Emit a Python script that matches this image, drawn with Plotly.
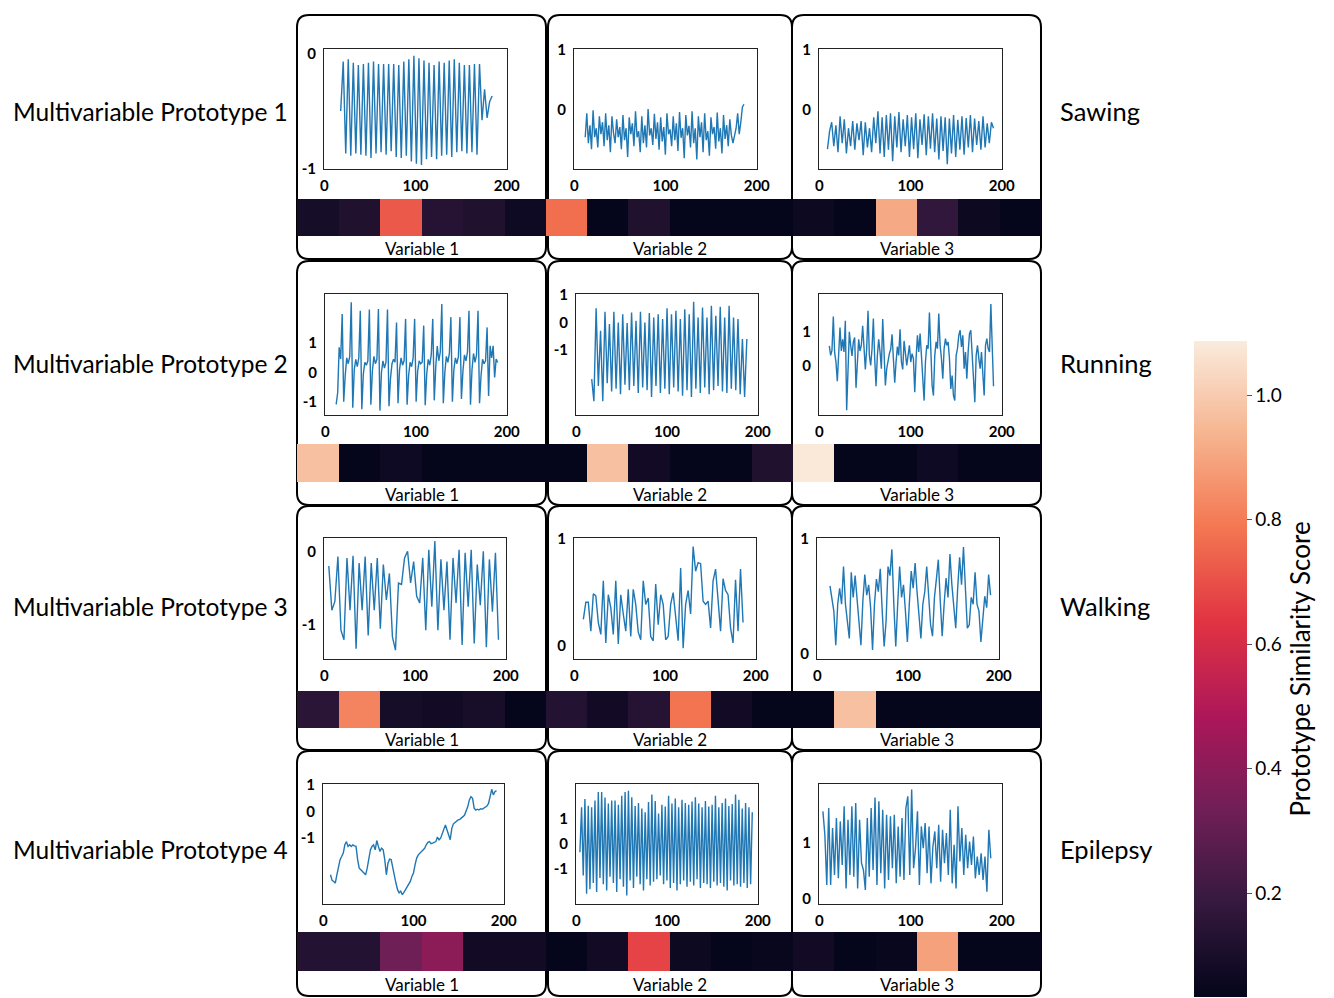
import numpy as np
import plotly.graph_objects as go

# ---- data ----
prototypes = ["Multivariable Prototype 1", "Multivariable Prototype 2",
              "Multivariable Prototype 3", "Multivariable Prototype 4"]
activities = ["Sawing", "Running", "Walking", "Epilepsy"]
variables = ["Variable 1", "Variable 2", "Variable 3"]
x_ticks = [0, 100, 200]

# prototype time series (values sampled evenly between start and end index)
p1_v1 = [-0.50, -0.07, -0.87, -0.05, -0.89, -0.08, -0.87, -0.10, -0.88, -0.09, -0.89, -0.08,
         -0.91, -0.07, -0.87, -0.09, -0.86, -0.09, -0.88, -0.09, -0.85, -0.09, -0.90, -0.10,
         -0.91, -0.07, -0.89, -0.05, -0.94, -0.02, -0.96, -0.04, -0.97, -0.06, -0.92, -0.08,
         -0.90, -0.10, -0.92, -0.07, -0.89, -0.08, -0.88, -0.06, -0.90, -0.05, -0.86, -0.08,
         -0.85, -0.10, -0.87, -0.10, -0.86, -0.09, -0.88, -0.09, -0.58, -0.31, -0.56, -0.42, -0.37]
p1_v2 = [-0.45, -0.05, -0.55, -0.25, -0.65, 0.00, -0.45, -0.30, -0.62, -0.10, -0.40, -0.20,
         -0.60, -0.05, -0.50, -0.25, -0.70, -0.10, -0.38, -0.55, -0.15, -0.45, -0.28, -0.65,
         -0.08, -0.50, -0.30, -0.78, -0.12, -0.40, -0.22, -0.60, -0.02, -0.45, -0.35, -0.70,
         -0.10, -0.55, -0.25, -0.62, 0.02, -0.42, -0.30, -0.58, -0.06, -0.48, -0.20, -0.66,
         -0.12, -0.52, -0.28, -0.74, -0.05, -0.40, -0.32, -0.60, -0.10, -0.50, -0.22, -0.68,
         -0.03, -0.46, -0.30, -0.80, -0.08, -0.42, -0.26, -0.62, -0.02, -0.55, -0.30, -0.82,
         -0.10, -0.45, -0.20, -0.70, -0.05, -0.50, -0.35, -0.76, -0.12, -0.40, -0.28, -0.64,
         -0.04, -0.52, -0.30, -0.72, -0.08, -0.48, -0.25, -0.60, -0.15, -0.42, -0.55, -0.45,
         -0.30, -0.05, -0.40, -0.20, 0.05, 0.10]
p1_v3 = [-0.65, -0.35, -0.20, -0.60, -0.25, -0.70, -0.10, -0.55, -0.15, -0.72, -0.30, -0.60,
         -0.18, -0.66, -0.22, -0.50, -0.18, -0.75, -0.20, -0.62, -0.30, -0.70, -0.12, -0.55,
         -0.02, -0.72, -0.12, -0.78, -0.08, -0.66, -0.05, -0.85, -0.10, -0.62, -0.03, -0.70,
         -0.15, -0.60, -0.08, -0.78, -0.12, -0.65, -0.05, -0.80, -0.15, -0.58, -0.07, -0.75,
         -0.10, -0.64, -0.05, -0.70, -0.14, -0.82, -0.10, -0.68, -0.12, -0.90, -0.14, -0.72,
         -0.08, -0.78, -0.16, -0.66, -0.10, -0.74, -0.13, -0.62, -0.08, -0.70, -0.14, -0.58,
         -0.18, -0.66, -0.10, -0.62, -0.22, -0.55, -0.20, -0.30]
p2_v1 = [-1.09, -0.69, 0.86, 0.46, 2.00,
         -1.00, -0.10, 0.50, 0.30, 0.55, 2.40,
         -1.20, 0.10, 0.45, 0.20, 0.50, 2.11,
         -1.25, -0.05, 0.35, 0.25, 0.40, 2.15,
         -1.10, 0.05, 0.55, 0.30, 0.45, 2.17,
         -1.30, 0.00, 0.40, 0.15, 0.35, 2.15,
         -1.15, -0.20, 0.30, 0.45, 0.35, 1.71,
         -1.05, 0.10, 0.50, 0.25, 0.40, 1.83,
         -1.10, -0.10, 0.35, 0.20, 0.50, 1.83,
         -1.00, 0.05, 0.40, 0.30, 0.35, 1.60,
         -1.12, -0.05, 0.45, 0.25, 0.60, 1.83,
         -0.95, 0.20, 0.90, 0.40, 0.70, 2.34,
         -1.05, 0.00, 0.55, 0.35, 0.65, 1.89,
         -1.00, 0.10, 0.50, 0.30, 0.55, 1.89,
         -0.90, 0.05, 0.60, 0.40, 0.70, 2.11,
         -1.10, 0.10, 0.65, 0.35, 0.60, 2.11,
         -1.05, -0.10, 0.45, 0.30, 0.40, 1.54,
         -0.80, 0.91, 0.50, 0.91, -0.17, 0.46, 0.34]
p2_v2 = [-2.05, -2.85, 0.51, -2.30, -0.30, -2.85, 0.39, -2.20, -0.06, -2.50, 0.39, -2.40,
         0.00, -2.60, 0.30, -2.25, -0.02, -2.45, 0.36, -2.30, 0.06, -2.55, 0.39, -2.35,
         0.00, -2.45, 0.34, -2.70, 0.18, -2.30, 0.30, -2.55, 0.12, -2.40, 0.51, -2.60,
         0.30, -2.35, 0.42, -2.50, 0.12, -2.65, 0.48, -2.45, 0.30, -2.70, 0.75, -2.40,
         0.18, -2.55, 0.54, -2.35, 0.18, -2.60, 0.60, -2.45, 0.24, -2.30, 0.57, -2.50,
         0.18, -2.55, 0.60, -2.40, 0.18, -2.45, 0.12, -2.60, -0.60, -2.70, -0.60]
p2_v3 = [0.58, 0.30, 0.45, 1.46, 0.38, 0.10, -0.47, 0.30, 1.13, 0.43, 0.78, 0.40, 1.33,
         -1.34, 0.20, 1.00, 0.60, 0.28, 0.70, 0.83, -0.67, 0.10, 0.78, 0.43, 0.60, 1.18,
         0.40, -0.12, 0.50, 1.63, 0.30, 0.00, 0.50, 1.40, 0.20, -0.62, 0.30, 0.78, 0.40,
         -0.10, 1.38, 0.30, -0.60, -0.10, 0.20, 0.35, 0.48, 0.93, 0.20, -0.52, 0.10, 0.56,
         0.30, 1.08, 0.10, -0.12, 0.73, 0.40, 0.00, 0.30, 0.60, 0.10, 0.35, 0.20, -0.80,
         0.20, 0.90, 0.40, 0.95, 0.30, -0.50, -1.05, 0.10, 0.60, 0.50, 1.58, 0.50, -0.60,
         -0.90, 0.30, 0.70, 0.50, 1.55, 0.60, 0.20, -0.40, 0.50, 0.80, 0.60, 0.70, 0.20,
         -0.70, -0.30, -0.90, -1.05, 0.30, 0.50, 0.90, 1.05, 0.55, 0.90, -0.10, 0.40, -0.40,
         0.40, 0.95, 1.05, 0.30, -0.30, -1.10, 0.30, 0.60, 0.20, -0.10, 0.40, -0.30, -0.90,
         0.60, 0.80, 0.50, 0.40, 1.83, 0.40, -0.62]
p3_v1 = [-0.20, -0.80, -0.68, -0.07, -1.07, -1.20, -0.09, -0.80, -0.06, -1.32, -0.16, -0.80,
         -0.07, -1.14, -0.16, -0.80, -0.09, -1.05, -0.18, -0.66, -0.30, -1.16, -1.34, -0.43,
         -0.45, -0.09, 0.00, -0.43, -0.14, -0.61, -0.70, -0.09, -1.07, 0.02, -0.75, 0.14,
         -1.07, -0.11, -0.80, -0.14, -1.20, -0.09, -0.70, 0.02, -1.27, -0.02, -0.75, 0.02,
         -1.25, -0.18, -0.73, 0.00, -1.30, -0.11, -0.82, -0.02, -1.20]
p3_v2 = [0.25, 0.41, 0.41, 0.14, 0.49, 0.47, 0.22, 0.11, 0.61, 0.03, 0.48, 0.36, 0.11, 0.61,
         0.02, 0.48, 0.30, 0.14, 0.53, 0.09, 0.53, 0.39, 0.13, 0.06, 0.61, 0.39, 0.45, 0.09,
         0.05, 0.58, 0.20, 0.48, 0.39, 0.06, 0.09, 0.39, 0.50, 0.25, 0.05, 0.73, -0.02, 0.39,
         0.52, 0.30, 0.93, 0.70, 0.78, 0.77, 0.42, 0.39, 0.42, 0.17, 0.61, 0.72, 0.39, 0.14,
         0.63, 0.52, 0.48, 0.17, 0.03, 0.62, 0.14, 0.72, 0.22]
p3_v3 = [0.59, 0.46, 0.37, 0.07, 0.43, 0.57, 0.43, 0.76, 0.43, 0.28, 0.13, 0.71, 0.49, 0.68,
         0.46, 0.28, 0.07, 0.46, 0.69, 0.51, 0.60, 0.40, 0.03, 0.43, 0.65, 0.54, 0.74, 0.37,
         0.06, 0.28, 0.76, 0.68, 0.91, 0.43, 0.06, 0.43, 0.76, 0.49, 0.60, 0.37, 0.10, 0.43,
         0.72, 0.57, 0.79, 0.54, 0.34, 0.13, 0.43, 0.54, 0.76, 0.49, 0.25, 0.15, 0.49, 0.65,
         0.82, 0.46, 0.15, 0.43, 0.66, 0.49, 0.87, 0.60, 0.43, 0.22, 0.57, 0.84, 0.60, 0.93,
         0.57, 0.22, 0.25, 0.49, 0.43, 0.71, 0.43, 0.37, 0.10, 0.34, 0.50, 0.40, 0.69, 0.51]
p4_v1 = [-2.38, -2.59, -2.63, -2.69, -2.38, -2.13, -1.81, -1.69, -1.56, -1.25, -1.13, -1.31,
         -1.25, -1.31, -1.25, -1.29, -1.31, -1.81, -2.13, -2.19, -2.25, -2.29, -2.38, -2.13,
         -1.69, -1.44, -1.31, -1.25, -1.44, -1.09, -1.31, -1.50, -1.38, -1.44, -1.81, -2.38,
         -1.94, -1.79, -1.81, -2.13, -2.50, -2.69, -2.94, -3.06, -3.00, -3.13, -3.04, -2.94,
         -2.81, -2.69, -2.63, -2.44, -2.31, -2.00, -1.75, -1.63, -1.56, -1.50, -1.44, -1.38,
         -1.25, -1.16, -1.13, -1.21, -1.19, -1.16, -1.13, -0.96, -1.06, -1.00, -0.81, -0.69,
         -0.50, -0.69, -0.88, -1.06, -0.63, -0.46, -0.41, -0.34, -0.31, -0.29, -0.25, -0.19,
         -0.13, 0.00, 0.19, 0.44, 0.56, 0.50, 0.13, 0.06, 0.09, 0.06, 0.11, 0.09, 0.13, 0.16,
         0.21, 0.31, 0.63, 0.84, 0.63, 0.75, 0.79]
p4_v2 = [-0.33, 1.45, -1.25, 1.78, -1.97, 1.51, -1.80, 1.45, -1.55, 1.72, -1.90, 2.05, -1.35,
         2.05, -1.60, 1.84, -1.85, 1.60, -1.30, 1.72, -1.55, 1.72, -1.90, 1.55, -1.40, 1.90,
         -1.70, 2.05, -2.04, 2.10, -1.45, 1.85, -1.75, 1.50, -1.30, 1.62, -1.60, 1.40, -1.85,
         1.25, -1.40, 1.66, -1.65, 1.95, -1.50, 1.70, -1.40, 1.20, -1.25, 1.55, -1.60, 1.48,
         -1.45, 1.90, -1.75, 1.60, -1.55, 1.80, -1.85, 1.45, -1.60, 1.75, -1.45, 1.62, -1.70,
         1.55, -1.50, 1.68, -1.65, 1.85, -1.40, 1.60, -1.75, 1.45, -1.55, 1.70, -1.60, 1.48,
         -1.75, 1.55, -1.50, 1.90, -1.65, 1.45, -1.55, 1.62, -1.70, 1.80, -1.85, 1.50, -1.45,
         1.58, -1.65, 1.95, -1.60, 1.75, -1.70, 1.40, -1.55, 1.62, -1.75, 1.45, -1.60, 1.25]
p4_v3 = [1.56, 1.14, 0.24, 1.62, 0.24, 1.26, 0.42, 1.44, 0.36, 1.38, 0.60, 1.65, 0.18, 1.41,
         0.42, 1.65, 0.39, 1.71, 0.18, 1.41, 0.63, 0.51, 0.15, 1.44, 0.39, 1.62, 0.51, 1.81,
         0.24, 1.74, 0.45, 1.59, 0.18, 1.50, 0.33, 1.47, 0.54, 1.50, 0.27, 1.29, 0.39, 1.44,
         0.33, 1.62, 1.83, 0.42, 1.95, 0.54, 0.90, 1.56, 0.24, 1.29, 0.90, 1.35, 0.45, 1.29,
         0.27, 0.93, 1.20, 0.54, 1.32, 0.30, 1.23, 0.63, 1.17, 0.42, 1.59, 0.27, 0.96, 0.18,
         1.65, 0.66, 1.26, 0.42, 1.14, 0.54, 1.02, 0.60, 1.11, 0.36, 0.75, 0.42, 0.81, 0.33,
         0.75, 0.12, 1.23, 0.72]

# first and last time index covered by each series
t_span = [[(18, 184), (12, 186), (9, 191)],
          [(12, 190), (17, 188), (11, 191)],
          [(5, 192), (10, 186), (14, 191)],
          [(8, 192), (4, 194), (4, 188)]]

# y tick labels shown on each panel
y_ticks = [[[0, -1], [1, 0, -1], [1, 0, -1]],
           [[1, 0, -1], [1, 0, -1], [1, 0]],
           [[0, -1], [1, 0], [1, 0]],
           [[1, 0, -1], [1, 0, -1], [1, 0]]]

# prototype similarity score of the six segments under each panel
scores_p1 = [[0.09, 0.12, 0.72, 0.14, 0.12, 0.07],
             [0.77, 0.04, 0.12, 0.04, 0.04, 0.04],
             [0.06, 0.04, 0.91, 0.17, 0.06, 0.04]]
scores_p2 = [[0.97, 0.04, 0.07, 0.04, 0.04, 0.04],
             [0.04, 0.97, 0.08, 0.04, 0.04, 0.12],
             [1.08, 0.04, 0.04, 0.07, 0.04, 0.04]]
scores_p3 = [[0.15, 0.82, 0.09, 0.08, 0.10, 0.04],
             [0.13, 0.08, 0.14, 0.78, 0.08, 0.04],
             [0.04, 0.97, 0.04, 0.04, 0.04, 0.04]]
scores_p4 = [[0.13, 0.13, 0.33, 0.40, 0.08, 0.08],
             [0.04, 0.08, 0.67, 0.06, 0.04, 0.05],
             [0.08, 0.04, 0.05, 0.89, 0.04, 0.04]]

cbar_ticks = [0.2, 0.4, 0.6, 0.8, 1.0]
score_min, score_max = 0.033, 1.087

series = [[p1_v1, p1_v2, p1_v3], [p2_v1, p2_v2, p2_v3],
          [p3_v1, p3_v2, p3_v3], [p4_v1, p4_v2, p4_v3]]
scores = [scores_p1, scores_p2, scores_p3, scores_p4]

# ---- layout geometry (pixels of the 1334x998 page) ----
# the page body keeps its default 8px margin, so the figure sits 8px in
OFF = 8
W, H = 1334 - OFF, 998 - OFF

def fx(p):
    return (p - OFF) / W

def fy(p):
    return 1 - (p - OFF) / H

box_cols = [(297, 546), (548, 792), (792, 1041)]
box_rows = [(15, 259), (261, 505), (506, 750), (751, 996)]
heat_cols = [(297, 546), (546, 793), (793, 1041)]
heat_rows = [(199, 236), (444, 482), (691, 728), (932, 971)]
label_y = [248, 494, 739, 984]
side_y = [111, 363, 606, 849]
frame_x = [[(324, 507), (574, 757), (819, 1002)],
           [(325, 507), (576, 758), (819, 1002)],
           [(324, 506), (574, 756), (817, 999)],
           [(323, 504), (576, 758), (819, 1002)]]
frame_y = [(49, 169), (294, 415), (538, 659), (784, 904)]
y_ranges = [[(-1.005, 0.04), (-0.98, 1.02), (-0.98, 1.02)],
            [(-1.45, 2.68), (-3.35, 1.03), (-1.48, 2.13)],
            [(-1.46, 0.18), (-0.12, 1.01), (-0.05, 1.01)],
            [(-3.48, 1.04), (-2.38, 2.37), (-0.10, 2.05)]]

rocket = [[0.0, "#03051a"], [0.143, "#35193e"], [0.286, "#701f57"],
          [0.429, "#ad1759"], [0.571, "#e13342"], [0.714, "#f37651"],
          [0.857, "#f6b48f"], [1.0, "#faebdd"]]

FONT = "Lato"
fig = go.Figure()
axes = {}
n = 0
for r in range(4):
    for c in range(3):
        # line panel
        n += 1
        ys = series[r][c]
        t0, t1 = t_span[r][c]
        fig.add_trace(go.Scatter(x=np.linspace(t0, t1, len(ys)), y=ys, mode="lines",
                                 line=dict(color="#1f77b4", width=1.4),
                                 xaxis=f"x{n}", yaxis=f"y{n}", showlegend=False,
                                 hoverinfo="skip"))
        x0, x1 = frame_x[r][c]
        y0, y1 = frame_y[r]
        axes[f"xaxis{n}"] = dict(domain=[fx(x0), fx(x1)], anchor=f"y{n}", range=[-0.3, 200.3],
                                 tickvals=x_ticks, showgrid=False, zeroline=False,
                                 showline=True, mirror=True, linecolor="#222", linewidth=1,
                                 ticks="", ticklabelstandoff=3,
                                 tickfont=dict(family=FONT, size=15, color="black", weight="bold"))
        axes[f"yaxis{n}"] = dict(domain=[fy(y1), fy(y0)], anchor=f"x{n}", range=list(y_ranges[r][c]),
                                 tickvals=y_ticks[r][c], ticktext=[str(v) for v in y_ticks[r][c]],
                                 showgrid=False, zeroline=False,
                                 showline=True, mirror=True, linecolor="#222", linewidth=1,
                                 ticks="", ticklabelstandoff=4,
                                 tickfont=dict(family=FONT, size=15, color="black", weight="bold"))
        # similarity strip
        n += 1
        fig.add_trace(go.Heatmap(z=[scores[r][c]], coloraxis="coloraxis",
                                 xaxis=f"x{n}", yaxis=f"y{n}", hoverinfo="skip"))
        hx0, hx1 = heat_cols[c]
        hy0, hy1 = heat_rows[r]
        axes[f"xaxis{n}"] = dict(domain=[fx(hx0), fx(hx1)], anchor=f"y{n}", range=[-0.5, 5.5],
                                 visible=False)
        axes[f"yaxis{n}"] = dict(domain=[fy(hy1), fy(hy0)], anchor=f"x{n}", range=[-0.5, 0.5],
                                 visible=False)

shapes = []
for r in range(4):
    for c in range(3):
        bx0, bx1 = box_cols[c]
        by0, by1 = box_rows[r]
        rr = 12
        pts = [(bx0 + rr, by0), (bx1 - rr, by0), (bx1, by0), (bx1, by0 + rr),
               (bx1, by1 - rr), (bx1, by1), (bx1 - rr, by1), (bx0 + rr, by1),
               (bx0, by1), (bx0, by1 - rr), (bx0, by0 + rr), (bx0, by0), (bx0 + rr, by0)]
        p = [f"{fx(a):.5f},{fy(b):.5f}" for a, b in pts]
        path = (f"M {p[0]} L {p[1]} Q {p[2]} {p[3]} L {p[4]} Q {p[5]} {p[6]} "
                f"L {p[7]} Q {p[8]} {p[9]} L {p[10]} Q {p[11]} {p[12]} Z")
        shapes.append(dict(type="path", path=path, xref="paper", yref="paper",
                           line=dict(color="black", width=2), layer="below"))

annotations = []
for r in range(4):
    for c in range(3):
        hx0, hx1 = heat_cols[c]
        annotations.append(dict(text=variables[c], x=fx((hx0 + hx1) / 2), y=fy(label_y[r]),
                                xref="paper", yref="paper", showarrow=False,
                                xanchor="center", yanchor="middle",
                                font=dict(family=FONT, size=17, color="black")))
    annotations.append(dict(text=prototypes[r], x=fx(290), y=fy(side_y[r]), xref="paper",
                            yref="paper", showarrow=False, xanchor="right", yanchor="middle",
                            font=dict(family=FONT, size=24.5, color="black")))
    annotations.append(dict(text=activities[r], x=fx(1058), y=fy(side_y[r]), xref="paper",
                            yref="paper", showarrow=False, xanchor="left", yanchor="middle",
                            font=dict(family=FONT, size=25.5, color="black")))

fig.update_layout(
    width=W, height=H, margin=dict(l=0, r=0, t=0, b=0, autoexpand=False),
    paper_bgcolor="white", plot_bgcolor="white",
    shapes=shapes, annotations=annotations,
    coloraxis=dict(colorscale=rocket, cmin=score_min, cmax=score_max,
                   colorbar=dict(thickness=53, thicknessmode="pixels", len=656, lenmode="pixels",
                                 x=fx(1194), xanchor="left", y=fy(997), yanchor="bottom",
                                 xpad=0, ypad=0, outlinewidth=0,
                                 tickvals=cbar_ticks, ticktext=[f"{v:.1f}" for v in cbar_ticks],
                                 ticks="outside", ticklen=5, tickcolor="#555",
                                 tickfont=dict(family=FONT, size=19, color="black"),
                                 title=dict(text="Prototype Similarity Score", side="right",
                                            font=dict(family=FONT, size=26, color="black")))),
    **axes,
)

fig.write_html("out.html")
